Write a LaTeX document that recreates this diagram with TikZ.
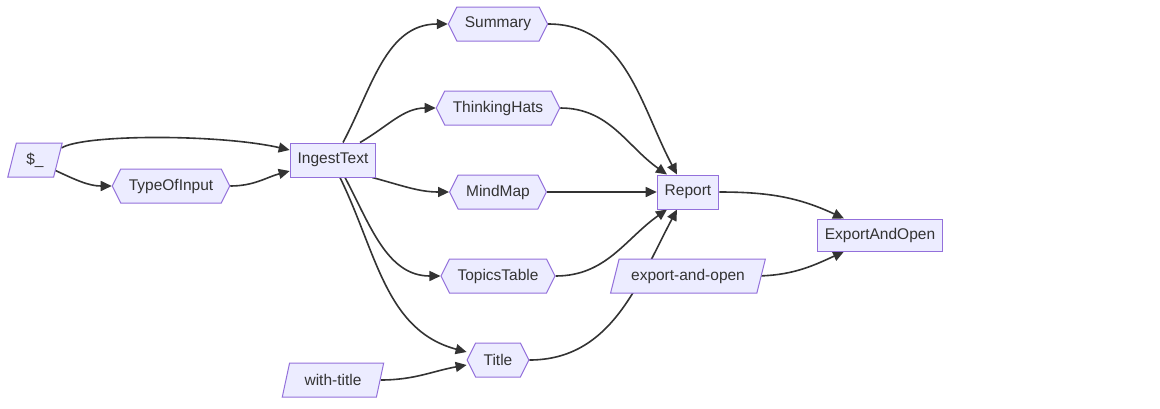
\documentclass[tikz,border=0pt]{standalone}
\usepackage{fontspec}
\setmainfont{Liberation Sans}
\usetikzlibrary{arrows.meta, positioning, shapes.geometric, shapes.symbols, backgrounds}
\definecolor{mmfill}{HTML}{ECECFF}
\definecolor{mmborder}{HTML}{9370DB}
\definecolor{mmline}{HTML}{333333}

\begin{document}
\begin{tikzpicture}[
  x=1pt, y=1pt,
  every node/.style={font=\fontsize{15.5}{17}\selectfont, text=mmline},
  boxnode/.style={rectangle, draw=mmborder, fill=mmfill, line width=1pt, minimum height=34pt, inner xsep=7.5pt},
  hexnode/.style={signal, signal to=east and west, signal pointer angle=127, draw=mmborder, fill=mmfill, line width=1pt, minimum height=34pt, inner xsep=8pt},
  slantnode/.style={trapezium, trapezium left angle=68, trapezium right angle=112, trapezium stretches=true, draw=mmborder, fill=mmfill, line width=1pt, minimum height=34pt, inner xsep=12pt},
  edge/.style={draw=mmline, line width=1.6pt, -{Triangle[length=11pt, width=10pt]}},
]
\useasboundingbox (0,0) rectangle (1160,-408);

\node[slantnode, inner xsep=10pt] (dollar) at (35,-160) {\$\_};
\node[hexnode] (typeof) at (171,-186) {TypeOfInput};
\node[boxnode] (ingest) at (333,-160) {IngestText};
\node[hexnode] (summary) at (498,-24) {Summary};
\node[hexnode] (hats) at (498,-108) {ThinkingHats};
\node[hexnode] (mindmap) at (498,-192) {MindMap};
\node[hexnode] (topics) at (498,-276) {TopicsTable};
\node[hexnode] (title) at (498,-360) {Title};
\node[slantnode, inner xsep=15pt] (withtitle) at (333,-380) {with-title};
\node[boxnode] (report) at (688,-192) {Report};
\node[slantnode] (exportflag) at (688,-276) {export-and-open};
\node[boxnode, minimum height=32pt] (export) at (880,-235) {ExportAndOpen};

% Connectors behind the nodes
\begin{scope}[on background layer]
\draw[edge] ([xshift=3pt, yshift=12pt]dollar.east) .. controls +(22,14) and +(-70,16) .. ([yshift=10pt]ingest.west);
\draw[edge] ([xshift=-4pt, yshift=-10pt]dollar.east) to[out=-25, in=180] (typeof.west);
\draw[edge] (typeof.east) to[out=0, in=195] ([yshift=-11pt]ingest.west);
\draw[edge] ([xshift=10pt]ingest.north) to[out=62, in=180] (summary.west);
\draw[edge] ([xshift=27pt]ingest.north) to[out=30, in=180] (hats.west);
\draw[edge] ([xshift=-4pt]ingest.south east) to[out=-15, in=180] (mindmap.west);
\draw[edge] ([xshift=12pt]ingest.south) to[out=-62, in=180] (topics.west);
\draw[edge] ([xshift=7pt]ingest.south) to[out=-64, in=165] ([yshift=8pt]title.west);
\draw[edge] (withtitle.east) to[out=0, in=190] ([yshift=-5pt]title.west);
\draw[edge] (summary.east) to[out=0, in=118] ([xshift=-11pt]report.north);
\draw[edge] (hats.east) to[out=0, in=145] ([xshift=-21pt]report.north);
\draw[edge] (mindmap.east) -- (report.west);
\draw[edge] (topics.east) to[out=0, in=-145] ([xshift=-21pt]report.south);
\draw[edge] (title.east) to[out=0, in=-118] ([xshift=-11pt]report.south);
\draw[edge] (report.east) to[out=0, in=155] ([xshift=-36pt]export.north);
\draw[edge] ([xshift=-8pt]exportflag.east) to[out=0, in=-155] ([xshift=-36pt]export.south);
\end{scope}

\end{tikzpicture}
\end{document}
